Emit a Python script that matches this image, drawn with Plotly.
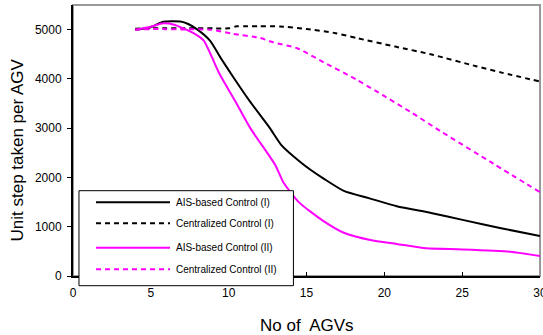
import plotly.graph_objects as go

# ---- data ----
ais1_x = [4, 5, 5.8, 6.9, 7.4, 8.0, 8.8, 9.5, 10.3, 11.4, 12.66, 13.4, 14.6, 15.3, 16.1, 17.4, 19.0, 20.8, 23.0, 25.1, 27.5, 30]
ais1_y = [5000, 5050, 5160, 5165, 5115, 5000, 4777, 4420, 4034, 3528, 2996, 2652, 2314, 2146, 1977, 1727, 1580, 1417, 1280, 1134, 970, 810]

cen1_x = [4, 5, 6, 7, 8, 9, 10, 10.5, 11, 12, 13.3, 15, 16.8, 18.3, 20.7, 23.05, 25.9, 27.6, 30]
cen1_y = [5020, 5026, 5026, 5026, 5026, 5026, 5026, 5067, 5067, 5067, 5065, 5014, 4933, 4824, 4656, 4494, 4257, 4123, 3947]

ais2_x = [4, 5, 5.8, 6.5, 7.2, 7.8, 8.4, 9.4, 10.4, 11.4, 13.0, 13.5, 14.5, 16.0, 17.4, 19.1, 20.8, 22.7, 25.0, 28.1, 30]
ais2_y = [5000, 5060, 5128, 5100, 5010, 4920, 4777, 4109, 3560, 2996, 2250, 1909, 1500, 1134, 877, 729, 650, 561, 540, 492, 405]

cen2_x = [4, 5, 6, 7, 8.8, 10.3, 12, 12.85, 14.4, 16.1, 18.2, 21.7, 23.7, 27, 30]
cen2_y = [5000, 5010, 5010, 5005, 5000, 4913, 4832, 4743, 4622, 4338, 3988, 3326, 2921, 2281, 1700]

names = ["AIS-based Control (I)", "Centralized Control (I)",
         "AIS-based Control (II)", "Centralized Control (II)"]
colors = ["#000000", "#000000", "#FF00FF", "#FF00FF"]
dashes = ["solid", "5px,4px", "solid", "5px,4px"]

x_ticks = [0, 5, 10, 15, 20, 25, 30]
y_ticks = [0, 1000, 2000, 3000, 4000, 5000]

series = [(ais1_x, ais1_y), (cen1_x, cen1_y), (ais2_x, ais2_y), (cen2_x, cen2_y)]

fig = go.Figure()
for (xs, ys), n, c, d in zip(series, names, colors, dashes):
    fig.add_trace(go.Scatter(x=xs, y=ys, mode="lines", name=n, showlegend=False,
                             line=dict(color=c, width=2, dash=d, shape="spline", smoothing=0.6)))

font = "Liberation Sans, Arial, sans-serif"

# gray frame (top/right)
shapes = [dict(type="rect", xref="paper", yref="paper", x0=0, x1=1, y0=0, y1=1,
               line=dict(color="#999999", width=2), layer="below")]

# manual legend
lx0, lx1 = 0.0128, 0.472
ly0, ly1 = -0.0358, 0.3148
shapes.append(dict(type="rect", xref="paper", yref="paper", x0=lx0, x1=lx1, y0=ly0, y1=ly1,
                   line=dict(color="#000000", width=1), fillcolor="white", layer="above"))
rows = [0.272, 0.1945, 0.1044, 0.0247]
annotations = []
for n, c, d, ry in zip(names, colors, dashes, rows):
    shapes.append(dict(type="line", xref="paper", yref="paper", x0=0.0493, x1=0.2077, y0=ry, y1=ry,
                       line=dict(color=c, width=2, dash=d), layer="above"))
    annotations.append(dict(xref="paper", yref="paper", x=0.2163, y=ry, text=n, showarrow=False,
                            xanchor="left", yanchor="middle",
                            font=dict(size=10, color="#000", family=font)))

# axis titles
annotations.append(dict(xref="paper", yref="paper", x=0.5, y=0, yshift=-49, text="No of  AGVs",
                        showarrow=False, xanchor="center", yanchor="middle",
                        font=dict(size=17, color="#000", family=font)))
annotations.append(dict(xref="paper", yref="paper", x=0, xshift=-56, y=0.5, yshift=-10,
                        text="Unit step taken per AGV", textangle=-90,
                        showarrow=False, xanchor="center", yanchor="middle",
                        font=dict(size=17, color="#000", family=font)))

fig.update_layout(
    width=543, height=335,
    margin=dict(l=73, r=3, t=5, b=59, autoexpand=False),
    plot_bgcolor="white", paper_bgcolor="white",
    font=dict(family=font, color="#000"),
    shapes=shapes, annotations=annotations,
    xaxis=dict(range=[0, 30], tickvals=x_ticks, ticks="inside", ticklen=4, tickcolor="#000",
               showline=True, linecolor="#000", linewidth=2, showgrid=False, zeroline=False,
               tickfont=dict(size=12), ticklabelstandoff=5, automargin=False,
               ticklabeloverflow="allow"),
    yaxis=dict(range=[0, 5500], tickvals=y_ticks, ticks="outside", ticklen=4, tickcolor="#000",
               showline=True, linecolor="#000", linewidth=2, showgrid=False, zeroline=False,
               tickfont=dict(size=12), ticklabelstandoff=3, automargin=False,
               ticklabeloverflow="allow"),
)

fig.write_html("out.html", config={"displayModeBar": False},
               post_script="document.body.style.margin='0';document.body.style.overflow='hidden';")
